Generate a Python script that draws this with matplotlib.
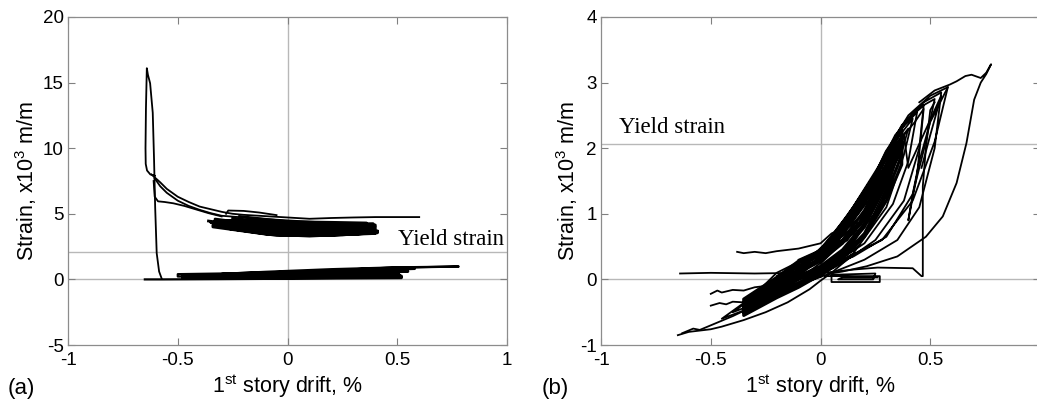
import numpy as np
import matplotlib.pyplot as plt

plt.rcParams['font.family'] = ['Liberation Sans', 'DejaVu Sans']
plt.rcParams['mathtext.default'] = 'regular'
plt.rcParams['axes.unicode_minus'] = False

# Limite de escoamento (x10^3 m/m)
yield_strain = 2.07

# ---- (a) dados: drift (%) x strain (x10^3 m/m) ----
a_spike_x = [-0.573, -0.585, -0.596, -0.603, -0.608, -0.614, -0.626, -0.636, -0.641,
             -0.645, -0.647, -0.646, -0.640, -0.625, -0.605]
a_spike_y = [0.05, 0.6, 2.0, 5.5, 9.1, 12.7, 14.95, 15.6, 16.1, 13.0, 10.0, 8.8, 8.3, 8.0, 7.9]

a_up1_x = [-0.62, -0.58, -0.55, -0.5, -0.45, -0.4, -0.3, -0.25, -0.2, -0.1, 0.0, 0.1, 0.2, 0.3, 0.4, 0.5, 0.6]
a_up1_y = [8.0, 7.4, 6.9, 6.3, 5.9, 5.55, 5.15, 5.0, 4.92, 4.82, 4.72, 4.62, 4.68, 4.72, 4.75, 4.75, 4.75]
a_up2_x = [-0.605, -0.58, -0.55, -0.5, -0.45, -0.4, -0.35, -0.3, -0.2, -0.1, 0.0, 0.1, 0.2, 0.3, 0.38]
a_up2_y = [7.7, 7.1, 6.6, 6.0, 5.6, 5.3, 5.05, 4.85, 4.72, 4.6, 4.5, 4.4, 4.33, 4.25, 4.2]
a_up3_x = [-0.61, -0.605, -0.59, -0.56, -0.52, -0.47, -0.42, -0.36, -0.3]
a_up3_y = [7.5, 6.3, 5.95, 5.9, 5.8, 5.6, 5.35, 5.05, 4.8]
a_bump_x = [-0.28, -0.27, -0.2, -0.13, -0.05]
a_bump_y = [5.0, 5.25, 5.22, 5.1, 4.9]

a_blob_x = [-0.36, -0.1, 0.15, 0.40, 0.40, 0.15, -0.1, -0.33, -0.33, -0.1, 0.15, 0.38,
            0.38, 0.1, -0.15, -0.30, -0.30, -0.05, 0.2, 0.41, 0.41, 0.2, -0.05, -0.28,
            -0.28, -0.05, 0.2, 0.40, 0.40, 0.15, -0.1, -0.34, -0.34, -0.1, 0.1, 0.35,
            0.35, 0.1, -0.15, -0.25, -0.25, 0.0, 0.2, 0.39, 0.39, 0.2, 0.0, -0.2, -0.35,
            -0.2, 0.05, 0.3, 0.41, 0.25, 0.0, -0.22, -0.22, 0.0, 0.2, 0.36, 0.36, 0.15,
            -0.05, -0.2, -0.32, -0.15, 0.05, 0.25, 0.40, 0.25, 0.05, -0.15, -0.27]
a_blob_y = [4.45, 3.9, 3.7, 3.85, 4.0, 3.9, 4.1, 4.6, 4.3, 3.7, 3.5, 3.6,
            3.75, 3.6, 3.9, 4.4, 4.2, 3.5, 3.45, 3.7, 3.55, 3.35, 3.35, 3.9,
            4.5, 4.2, 4.0, 4.15, 4.1, 3.8, 3.6, 4.15, 4.0, 3.45, 3.3, 3.5,
            3.9, 4.0, 4.3, 4.7, 4.6, 4.3, 4.2, 4.25, 3.8, 3.7, 3.7, 4.0, 4.35,
            3.95, 3.6, 3.55, 3.65, 3.85, 3.95, 4.25, 4.8, 4.4, 4.35, 4.3, 4.05, 4.1,
            4.05, 4.45, 4.5, 4.0, 3.45, 3.4, 3.5, 3.6, 3.55, 3.75, 4.1]

a_low_x = [-0.65, -0.57, -0.3, 0.0, 0.3, 0.52, 0.52, 0.3, 0.0, -0.3, -0.45,
           -0.45, -0.2, 0.0, 0.3, 0.5, 0.55, 0.5, 0.3, 0.0, -0.3, -0.5,
           -0.5, -0.3, 0.0, 0.25, 0.45, 0.58, 0.45, 0.2, -0.1, -0.35,
           -0.35, -0.1, 0.2, 0.45, 0.78, 0.5, 0.2, -0.1, -0.3, -0.1, 0.2, 0.5,
           0.52, 0.3, 0.0, -0.3, -0.48, -0.48, -0.2, 0.1, 0.4, 0.55, 0.4, 0.1,
           -0.2, -0.4, -0.25, 0.0, 0.3, 0.5, 0.35, 0.05, -0.2, -0.42]
a_low_y = [0.0, 0.0, 0.02, 0.05, 0.08, 0.1, 0.28, 0.22, 0.15, 0.12, 0.15,
           0.32, 0.38, 0.48, 0.62, 0.72, 0.75, 0.62, 0.45, 0.28, 0.2, 0.22,
           0.4, 0.45, 0.58, 0.7, 0.82, 0.8, 0.72, 0.55, 0.35, 0.28,
           0.38, 0.5, 0.7, 0.88, 0.98, 0.92, 0.78, 0.58, 0.42, 0.3, 0.42, 0.55,
           0.18, 0.12, 0.1, 0.08, 0.1, 0.3, 0.32, 0.4, 0.55, 0.6, 0.45, 0.3,
           0.2, 0.18, 0.25, 0.35, 0.45, 0.4, 0.25, 0.15, 0.08, 0.05]

# ---- (b) ----
b_outer_x = [0.45, 0.52, 0.589, 0.62, 0.66, 0.688, 0.73, 0.755, 0.777, 0.755, 0.73, 0.70,
             0.665, 0.62, 0.557, 0.48, 0.35, 0.21, 0.1, 0.03]
b_outer_y = [2.7, 2.88, 2.97, 3.02, 3.10, 3.12, 3.07, 3.15, 3.28, 3.13, 3.0, 2.74,
             2.08, 1.47, 0.96, 0.65, 0.35, 0.2, 0.12, 0.08]

b_step_x = [-0.64, -0.5, -0.3, -0.1, 0.04, 0.15, 0.26, 0.42, 0.46, 0.466, 0.466, 0.48, 0.50, 0.52]
b_step_y = [0.09, 0.10, 0.09, 0.10, 0.11, 0.15, 0.18, 0.17, 0.05, 0.05, 1.42, 2.0, 2.58, 2.7]

b_small_x = [0.02, 0.27, 0.27, 0.05, 0.05, 0.25, 0.24, 0.08, 0.1, 0.26]
b_small_y = [0.05, 0.05, -0.04, -0.04, 0.07, 0.09, 0.0, 0.0, 0.03, 0.03]

b_top_x = [-0.38, -0.35, -0.3, -0.25, -0.2, -0.1, 0.0, 0.05, 0.1, 0.13, 0.16, 0.2]
b_top_y = [0.42, 0.40, 0.42, 0.40, 0.43, 0.47, 0.55, 0.7, 0.78, 0.84, 0.85, 0.9]

b_neg1_x = [-0.5, -0.47, -0.45, -0.4, -0.35, -0.3, -0.25, -0.15, -0.05, 0.05]
b_neg1_y = [-0.22, -0.17, -0.2, -0.16, -0.17, -0.12, -0.1, -0.05, 0.05, 0.25]
b_neg2_x = [-0.5, -0.46, -0.43, -0.4, -0.35, -0.3, -0.2, -0.1, 0.0]
b_neg2_y = [-0.4, -0.36, -0.38, -0.34, -0.35, -0.3, -0.2, -0.05, 0.15]
b_neg3_x = [-0.65, -0.6, -0.55, -0.5, -0.45, -0.35, -0.25, -0.15, -0.05, 0.0, 0.05, 0.12]
b_neg3_y = [-0.85, -0.8, -0.78, -0.76, -0.72, -0.62, -0.5, -0.35, -0.15, -0.02, 0.1, 0.3]
b_neg4_x = [-0.63, -0.58, -0.55, -0.5, -0.4, -0.3, -0.2, -0.1, 0.0]
b_neg4_y = [-0.82, -0.75, -0.77, -0.7, -0.56, -0.4, -0.2, 0.0, 0.25]

b_band_x = [-0.2, 0.0, 0.12, 0.22, 0.30, 0.24, 0.15, 0.05, -0.1, -0.3,
            -0.1, 0.02, 0.15, 0.25, 0.33, 0.26, 0.17, 0.06, -0.08, -0.25,
            -0.05, 0.08, 0.2, 0.3, 0.36, 0.3, 0.2, 0.1, 0.0, -0.15, -0.35,
            -0.15, 0.0, 0.15, 0.28, 0.38, 0.31, 0.22, 0.12, 0.02, -0.05, -0.15,
            0.0, 0.12, 0.26, 0.35, 0.40, 0.33, 0.24, 0.14, 0.04, -0.15, -0.4,
            -0.2, 0.0, 0.15, 0.3, 0.38, 0.42, 0.35, 0.25, 0.15, 0.05, -0.1, -0.3,
            -0.1, 0.05, 0.2, 0.33, 0.4, 0.44, 0.37, 0.27, 0.17, 0.07, -0.05, -0.2, -0.45,
            -0.25, -0.05, 0.1, 0.25, 0.38, 0.45, 0.47, 0.4, 0.3, 0.2, 0.1, 0.0, -0.1, -0.2,
            0.0, 0.15, 0.3, 0.42, 0.48, 0.52, 0.44, 0.34, 0.25, 0.16, 0.06, -0.05, -0.2, -0.35,
            -0.15, 0.05, 0.2, 0.35, 0.45, 0.52, 0.55, 0.47, 0.37, 0.28, 0.18, 0.08, -0.02, -0.2,
            -0.05, 0.1, 0.28, 0.42, 0.52, 0.58, 0.5, 0.4, 0.3, 0.2, 0.1, 0.0, -0.1]
b_band_y = [-0.2, 0.12, 0.45, 0.95, 1.6, 1.3, 0.9, 0.5, 0.15, -0.35,
            -0.12, 0.15, 0.55, 1.15, 1.85, 1.5, 1.0, 0.55, 0.2, -0.3,
            -0.02, 0.25, 0.7, 1.4, 2.05, 1.75, 1.2, 0.75, 0.4, 0.05, -0.45,
            -0.18, 0.08, 0.45, 1.1, 2.2, 1.9, 1.35, 0.85, 0.45, 0.2, -0.05,
            0.18, 0.5, 1.05, 1.7, 2.3, 2.0, 1.5, 0.95, 0.5, 0.1, -0.5,
            -0.25, 0.05, 0.4, 1.1, 1.9, 2.45, 2.15, 1.6, 1.0, 0.55, 0.2, -0.25,
            0.0, 0.22, 0.55, 1.15, 1.8, 2.55, 2.3, 1.75, 1.1, 0.6, 0.3, 0.0, -0.6,
            -0.35, -0.02, 0.25, 0.6, 1.2, 2.0, 2.65, 2.45, 1.95, 1.3, 0.75, 0.45, 0.25, -0.15,
            0.15, 0.35, 0.65, 1.3, 2.1, 2.75, 2.6, 2.2, 1.6, 1.0, 0.6, 0.35, 0.1, -0.4,
            -0.15, 0.1, 0.3, 0.6, 1.1, 2.0, 2.85, 2.7, 2.35, 1.8, 1.15, 0.65, 0.4, 0.05,
            0.1, 0.3, 0.6, 1.2, 2.1, 2.93, 2.8, 2.5, 1.95, 1.3, 0.75, 0.45, 0.3]

# faixa densa central (ida e volta ao longo da faixa)
b_dense_x = [-0.35, -0.2, -0.1, 0.0, 0.1, 0.2, 0.3, 0.37,
             0.37, 0.3, 0.2, 0.1, 0.0, -0.1, -0.2, -0.35,
             -0.35, -0.2, -0.1, 0.0, 0.1, 0.2, 0.3, 0.37,
             0.37, 0.3, 0.2, 0.1, 0.0, -0.1, -0.2, -0.35,
             -0.35, -0.2, -0.1, 0.0, 0.1, 0.2, 0.3, 0.37,
             0.37, 0.3, 0.2, 0.1, 0.0, -0.1, -0.2, -0.35,
             -0.35, -0.2, -0.1, 0.0, 0.1, 0.2, 0.3, 0.37,
             0.37, 0.3, 0.2, 0.1, 0.0, -0.1, -0.2, -0.35]
b_dense_y = [-0.5, -0.25, -0.1, 0.1, 0.35, 0.7, 1.3, 1.9,
             2.25, 1.9, 1.2, 0.7, 0.4, 0.25, 0.0, -0.35,
             -0.45, -0.15, 0.05, 0.2, 0.45, 0.85, 1.5, 2.0,
             2.15, 1.7, 1.05, 0.6, 0.32, 0.15, -0.05, -0.4,
             -0.55, -0.28, -0.12, 0.07, 0.32, 0.65, 1.2, 1.75,
             2.3, 1.95, 1.25, 0.72, 0.43, 0.28, 0.03, -0.3,
             -0.42, -0.1, 0.1, 0.28, 0.55, 0.95, 1.6, 2.1,
             2.05, 1.45, 0.8, 0.4, 0.15, 0.0, -0.2, -0.48]

b_core_x = [0.0, 0.2, 0.34, 0.25, 0.1, -0.05, 0.15, 0.3, 0.36, 0.28, 0.12, 0.0, 0.18, 0.32,
            0.38, 0.3, 0.15, 0.02, 0.2, 0.33, 0.37, 0.27, 0.1, -0.02, 0.12, 0.27, 0.35,
            0.24, 0.08, -0.1, -0.25, -0.1, 0.05, -0.15, -0.3, -0.2, 0.0]
b_core_y = [0.25, 0.9, 1.9, 1.5, 0.8, 0.3, 0.7, 1.5, 2.1, 1.75, 0.95, 0.45, 0.85, 1.7,
            2.2, 1.9, 1.1, 0.5, 1.0, 1.8, 2.15, 1.6, 0.8, 0.35, 0.6, 1.3, 1.95,
            1.35, 0.6, 0.05, -0.3, -0.1, 0.2, -0.15, -0.35, -0.25, 0.1]

b_desc_x = [0.58, 0.5, 0.45, 0.42, 0.4, 0.44, 0.47, 0.43, 0.38, 0.4, 0.55, 0.5, 0.46]
b_desc_y = [2.93, 2.4, 1.8, 1.3, 0.9, 1.6, 2.6, 2.4, 2.2, 1.7, 2.8, 2.2, 1.7]

fig = plt.figure(figsize=(10.37, 4.0), dpi=100)
ax1 = fig.add_axes([0.0656, 0.1375, 0.4233, 0.82])
ax2 = fig.add_axes([0.5796, 0.1375, 0.4233, 0.82])

def estilo(ax, xlim, ylim, yticks, xticks, ypad):
    ax.set_xlim(*xlim)
    ax.set_ylim(*ylim)
    ax.set_xticks(xticks)
    ax.set_yticks(yticks)
    ax.set_xticklabels([('%g' % t) for t in xticks])
    ax.tick_params(direction='in', top=True, right=True, length=5, width=0.8,
                   color='0.5', labelsize=13.5)
    ax.tick_params(axis='x', pad=5)
    ax.tick_params(axis='y', pad=3)
    for s in ax.spines.values():
        s.set_color('0.55')
        s.set_linewidth(0.9)
    ax.axvline(0, color='0.72', lw=1.0, zorder=1)
    ax.axhline(0, color='0.72', lw=1.0, zorder=1)
    ax.axhline(yield_strain, color='0.72', lw=1.0, zorder=1)
    ax.set_ylabel('Strain, x10$^3$ m/m', fontsize=15.5, labelpad=ypad)
    ax.set_xlabel('1$^{st}$ story drift, %', fontsize=15.5, labelpad=2)

lw = 1.3
estilo(ax1, (-1, 1), (-5, 20), [-5, 0, 5, 10, 15, 20], [-1, -0.5, 0, 0.5, 1], 3)
for xs, ys in [(a_spike_x, a_spike_y), (a_up1_x, a_up1_y), (a_up2_x, a_up2_y),
               (a_up3_x, a_up3_y), (a_bump_x, a_bump_y)]:
    ax1.plot(xs, ys, color='black', lw=lw, zorder=3)
ax1.plot(a_blob_x, a_blob_y, color='black', lw=2.0, zorder=3)
ax1.plot(a_low_x, a_low_y, color='black', lw=1.6, zorder=3)
ax1.text(0.503, 2.63, 'Yield strain', family='Liberation Serif', fontsize=16.5, va='baseline')

estilo(ax2, (-1, 1), (-1, 4), [-1, 0, 1, 2, 3, 4], [-1, -0.5, 0, 0.5], 0)
for xs, ys in [(b_outer_x, b_outer_y), (b_step_x, b_step_y), (b_small_x, b_small_y),
               (b_top_x, b_top_y), (b_neg1_x, b_neg1_y), (b_neg2_x, b_neg2_y),
               (b_neg3_x, b_neg3_y), (b_neg4_x, b_neg4_y), (b_band_x, b_band_y),
               (b_desc_x, b_desc_y)]:
    ax2.plot(xs, ys, color='black', lw=lw, zorder=3)
ax2.plot(b_dense_x, b_dense_y, color='black', lw=2.2, zorder=3)
ax2.plot(b_core_x, b_core_y, color='black', lw=2.0, zorder=3)
ax2.text(-0.918, 2.23, 'Yield strain', family='Liberation Serif', fontsize=16.5, va='baseline')

fig.text(0.007, 0.028, '(a)', fontsize=16, va='center')
fig.text(0.522, 0.028, '(b)', fontsize=16, va='center')

fig.savefig('out.png', dpi=100)
